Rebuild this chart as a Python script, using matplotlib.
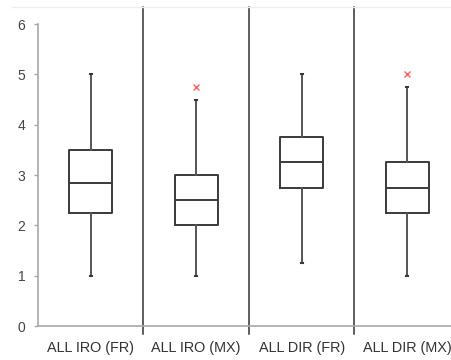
import matplotlib
matplotlib.use("Agg")
import matplotlib.pyplot as plt
from matplotlib.lines import Line2D

categories = ["ALL IRO (FR)", "ALL IRO (MX)", "ALL DIR (FR)", "ALL DIR (MX)"]
whisker_low = [1.0, 1.0, 1.25, 1.0]
q1 = [2.25, 2.0, 2.75, 2.25]
median = [2.85, 2.5, 3.25, 2.75]
q3 = [3.5, 3.0, 3.75, 3.25]
whisker_high = [5.0, 4.5, 5.0, 4.75]
outliers = [[], [4.75], [], [5.0]]
y_ticks = [0, 1, 2, 3, 4, 5, 6]

plt.rcParams["font.family"] = ["Liberation Sans", "DejaVu Sans"]

fig = plt.figure(figsize=(4.52, 3.6), dpi=100)
ax = fig.add_axes([38 / 452, 34 / 360, 1 - 38 / 452, 319 / 360])

# faint frame line along the top of the chart area
fig.add_artist(Line2D([12 / 452, 1.0], [353.5 / 360, 353.5 / 360],
                      color="#eeeeee", linewidth=1.0))

stats = []
for i, name in enumerate(categories):
    stats.append(dict(label=name, whislo=whisker_low[i], q1=q1[i], med=median[i],
                      q3=q3[i], whishi=whisker_high[i], fliers=outliers[i]))

dark = "#3a3a3a"
ax.bxp(stats, positions=range(1, len(categories) + 1), widths=0.41, capwidths=0.02,
       boxprops=dict(color=dark, linewidth=1.4),
       medianprops=dict(color=dark, linewidth=1.4),
       whiskerprops=dict(color="#555555", linewidth=1.4),
       capprops=dict(color=dark, linewidth=1.5),
       flierprops=dict(marker="x", markeredgecolor="#ff6060", markersize=4,
                       markeredgewidth=1.0, linestyle="none"))

# category separators
for b in [1.5, 2.5, 3.5]:
    ax.plot([b, b], [-0.16, 6.34], color="#333333", linewidth=1.1, clip_on=False)

ax.set_xlim(0.5, 4.5 - 8 / 105.5)
ax.set_ylim(0, 6.34)
ax.set_yticks(y_ticks)
ax.set_xticks(range(1, len(categories) + 1))
ax.set_xticklabels(categories)

for s in ["top", "right"]:
    ax.spines[s].set_visible(False)
ax.spines["left"].set_bounds(0, 6)
ax.spines["left"].set_color("#a8a8a8")
ax.spines["bottom"].set_color("#a8a8a8")
ax.spines["left"].set_linewidth(1.2)
ax.spines["bottom"].set_linewidth(1.2)

ax.tick_params(axis="x", length=0, pad=10.5, labelsize=10.4, labelcolor="#333333")
ax.tick_params(axis="y", length=3, width=1.0, color="#a8a8a8", pad=6,
               labelsize=10, labelcolor="#444444")

fig.savefig("out.png", dpi=100)
